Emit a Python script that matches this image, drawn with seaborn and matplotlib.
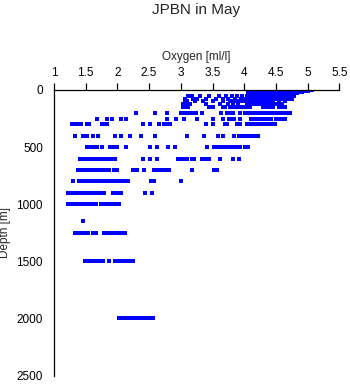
import matplotlib
matplotlib.use('Agg')
import matplotlib.pyplot as plt
import seaborn as sns
import pandas as pd

# ---- data: oxygen values [ml/l] observed at each sampling depth [m] ----
o2_d0 = [4.10, 4.14, 4.18, 4.22, 4.26, 4.30, 4.34, 4.38, 4.42, 4.46, 4.50, 4.54,
         4.58, 4.62, 4.66, 4.70, 4.74, 4.78, 4.82, 4.86, 4.92, 4.97, 5.02, 5.07]
o2_d10 = [4.08, 4.12, 4.16, 4.21, 4.25, 4.29, 4.33, 4.37, 4.41, 4.45, 4.49, 4.53,
          4.57, 4.61, 4.65, 4.69, 4.73, 4.77, 4.81, 4.88, 4.95, 5.00]
o2_d20 = [4.07, 4.11, 4.15, 4.19, 4.23, 4.27, 4.31, 4.35, 4.39, 4.43, 4.47, 4.51,
          4.55, 4.59, 4.63, 4.67, 4.71, 4.75, 4.80, 4.86, 4.91]
o2_d30 = [4.06, 4.10, 4.14, 4.18, 4.22, 4.26, 4.30, 4.34, 4.38, 4.42, 4.46, 4.50,
          4.54, 4.58, 4.62, 4.66, 4.70, 4.74, 4.78, 4.83]
o2_d50 = [3.12, 3.18, 3.30, 3.45, 3.60, 3.72, 3.80, 3.88, 3.96, 4.04, 4.08, 4.12,
          4.16, 4.20, 4.24, 4.28, 4.32, 4.36, 4.40, 4.44, 4.48, 4.52, 4.56, 4.60,
          4.64, 4.68, 4.72, 4.78]
o2_d75 = [3.06, 3.20, 3.25, 3.40, 3.55, 3.67, 3.75, 3.85, 3.95, 4.02, 4.06, 4.10,
          4.14, 4.18, 4.22, 4.26, 4.30, 4.34, 4.38, 4.42, 4.46, 4.50, 4.54, 4.58,
          4.62, 4.66, 4.70, 4.76]
o2_d100 = [3.06, 3.10, 3.22, 3.35, 3.50, 3.66, 3.78, 3.84, 3.90, 3.96, 4.00, 4.04,
           4.08, 4.12, 4.16, 4.20, 4.24, 4.28, 4.32, 4.36, 4.40, 4.45, 4.55, 4.65]
o2_d125 = [3.04, 3.10, 3.14, 3.40, 3.62, 3.75, 3.82, 3.90, 4.05, 4.09, 4.13, 4.17,
           4.21, 4.25, 4.29, 4.33, 4.37, 4.41, 4.45, 4.50, 4.55, 4.60]
o2_d150 = [3.04, 3.08, 3.12, 3.44, 3.50, 3.66, 3.70, 3.78, 3.82, 3.88, 3.93, 3.97,
           4.01, 4.05, 4.09, 4.30, 4.34, 4.40, 4.45, 4.55, 4.60, 4.64]
o2_d200 = [2.30, 2.60, 2.79, 3.00, 3.04, 3.08, 3.12, 3.16, 3.20, 3.24, 3.34, 3.64,
           3.73, 3.78, 3.83, 3.94, 4.02, 4.06, 4.10, 4.14, 4.18, 4.23, 4.27, 4.31,
           4.35, 4.39, 4.43, 4.47, 4.51, 4.55, 4.59, 4.63, 4.68, 4.73]
o2_d250 = [1.68, 1.84, 1.92, 2.05, 2.13, 2.79, 2.93, 3.05, 3.26, 3.51, 3.66, 3.76,
           3.80, 3.84, 3.93, 4.10, 4.14, 4.18, 4.22, 4.26, 4.30, 4.34, 4.38, 4.42,
           4.50, 4.54, 4.58, 4.64]
o2_d300 = [1.28, 1.33, 1.38, 1.42, 1.52, 1.55, 1.75, 1.79, 1.84, 2.41, 2.52, 2.65,
           2.73, 2.78, 2.83, 3.39, 3.51, 3.69, 3.73, 3.89, 3.94, 4.05, 4.09, 4.13,
           4.17, 4.21, 4.25, 4.29, 4.33, 4.37, 4.41, 4.45, 4.49]
o2_d400 = [1.33, 1.46, 1.52, 1.62, 1.70, 1.97, 2.05, 2.20, 2.38, 2.60, 3.09, 3.37,
           3.58, 3.66, 3.84, 3.92, 3.96, 4.00, 4.04, 4.08, 4.12, 4.16, 4.21]
o2_d500 = [1.52, 1.56, 1.60, 1.64, 1.68, 1.76, 1.88, 1.92, 1.96, 2.00, 2.14, 2.52,
           2.63, 2.80, 2.91, 3.41, 3.52, 3.56, 3.60, 3.64, 3.68, 3.72, 3.76, 3.81,
           3.85, 3.89, 3.94, 4.02, 4.06]
o2_d600 = [1.41, 1.46, 1.50, 1.54, 1.58, 1.62, 1.66, 1.70, 1.74, 1.78, 1.82, 1.86,
           1.90, 1.94, 1.97, 2.40, 2.51, 2.62, 2.96, 3.00, 3.05, 3.10, 3.17, 3.21,
           3.33, 3.37, 3.41, 3.45, 3.62, 3.83, 3.92]
o2_d700 = [1.38, 1.42, 1.46, 1.50, 1.54, 1.58, 1.62, 1.66, 1.70, 1.74, 1.78, 1.82,
           1.87, 1.94, 2.00, 2.24, 2.31, 2.42, 2.57, 2.61, 2.65, 2.69, 2.73, 2.77,
           2.81, 3.17, 3.52, 3.57]
o2_d800 = [1.30, 1.39, 1.43, 1.47, 1.51, 1.55, 1.59, 1.63, 1.67, 1.71, 1.75, 1.79,
           1.83, 1.87, 1.91, 1.95, 1.99, 2.03, 2.07, 2.12, 2.17, 2.53, 2.58, 3.01]
o2_d900 = [1.22, 1.27, 1.32, 1.38, 1.42, 1.46, 1.50, 1.54, 1.58, 1.62, 1.66, 1.70,
           1.74, 1.79, 1.93, 1.98, 2.02, 2.06, 2.43, 2.55]
o2_d1000 = [1.22, 1.26, 1.30, 1.34, 1.38, 1.42, 1.46, 1.50, 1.55, 1.59, 1.63, 1.67,
            1.74, 1.79, 1.83, 1.87, 1.91, 1.95, 1.99, 2.02]
o2_d1150 = [1.46]
o2_d1250 = [1.33, 1.36, 1.40, 1.44, 1.48, 1.53, 1.61, 1.67, 1.79, 1.83, 1.87, 1.91,
            1.95, 1.99, 2.03, 2.07, 2.12]
o2_d1500 = [1.49, 1.53, 1.57, 1.61, 1.65, 1.69, 1.73, 1.78, 1.86, 1.96, 2.00, 2.04,
            2.08, 2.12, 2.16, 2.20, 2.24]
o2_d2000 = [2.02, 2.06, 2.10, 2.16, 2.20, 2.25, 2.29, 2.33, 2.37, 2.41, 2.45, 2.49,
            2.53, 2.56]

depth_levels = [0, 10, 20, 30, 50, 75, 100, 125, 150, 200, 250, 300, 400, 500,
                600, 700, 800, 900, 1000, 1150, 1250, 1500, 2000]
o2_by_level = [o2_d0, o2_d10, o2_d20, o2_d30, o2_d50, o2_d75, o2_d100, o2_d125,
               o2_d150, o2_d200, o2_d250, o2_d300, o2_d400, o2_d500, o2_d600,
               o2_d700, o2_d800, o2_d900, o2_d1000, o2_d1150, o2_d1250, o2_d1500,
               o2_d2000]

x_ticks = [1, 1.5, 2, 2.5, 3, 3.5, 4, 4.5, 5, 5.5]
x_tick_labels = ['1', '1.5', '2', '2.5', '3', '3.5', '4', '4.5', '5', '5.5']
y_ticks = [0, 500, 1000, 1500, 2000, 2500]
y_tick_labels = ['0', '500', '1000', '1500', '2000', '2500']

rows = []
for d, vals in zip(depth_levels, o2_by_level):
    for v in vals:
        rows.append({'Oxygen': v, 'Depth': d})
df = pd.DataFrame(rows)

# ---- plot ----
sns.set_style('white')
plt.rcParams['font.family'] = ['Liberation Sans', 'DejaVu Sans']

W, H = 350, 384
fig = plt.figure(figsize=(W / 100, H / 100), dpi=100)
ax = fig.add_axes([54 / W, 1 - 375.5 / H, (339.3 - 54) / W, (375.5 - 90) / H])

sns.scatterplot(data=df, x='Oxygen', y='Depth', ax=ax, marker='s', s=4.7,
                color='#0000ff', linewidth=0, legend=False)
for coll in ax.collections:
    coll.set_antialiased(False)

ax.set_xlim(1, 5.5)
ax.set_ylim(2500, 0)
ax.xaxis.set_ticks_position('top')
ax.xaxis.set_label_position('top')
ax.set_xticks(x_ticks)
ax.set_xticklabels(x_tick_labels)
ax.set_yticks(y_ticks)
ax.set_yticklabels(y_tick_labels)
for side in ['right', 'bottom']:
    ax.spines[side].set_visible(False)
for side in ['top', 'left']:
    ax.spines[side].set_linewidth(0.9)
    ax.spines[side].set_color('black')
ax.tick_params(axis='both', direction='out', length=5, width=0.9, color='black',
               labelsize=8.5, pad=3, labelcolor='black')
ax.set_xlabel('Oxygen [ml/l]', fontsize=8.5, labelpad=5)
ax.set_ylabel('Depth [m]', fontsize=8.5, labelpad=4)
ax.grid(False)
fig.text(196.5 / W, 1 - 10 / H, 'JPBN in May', ha='center', va='center', fontsize=11)

fig.savefig('out.png', dpi=100)
